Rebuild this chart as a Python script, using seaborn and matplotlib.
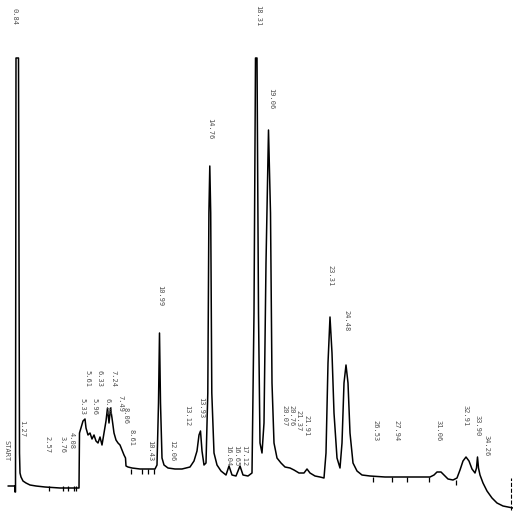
import matplotlib
matplotlib.use("Agg")
import matplotlib.pyplot as plt
import seaborn as sns
import pandas as pd

# --- Chromatogram trace (chart mm, response mm) ---
chart_mm = [8, 15, 15, 15.5, 16, 18.5, 19.5, 20, 21, 23, 26, 30, 36, 45, 60, 79,
            79.5, 81, 83, 85, 86, 88, 90, 92, 94, 96, 98, 100, 102, 104, 106, 107.5,
            109, 110.5, 112, 114, 116, 118, 120, 122, 124, 125.5, 126, 128, 132, 140,
            150, 155, 157, 158.5, 159.5, 160.5, 162, 164, 168, 175, 182, 186, 190, 194,
            197, 199, 200.5, 202, 204, 206, 207.8, 208.9, 209.8, 210.7, 211.8, 214, 217,
            221, 226, 229, 232, 236, 240, 243, 248, 252, 254, 255.5, 257, 258.5, 260,
            262, 264, 266, 268.5, 270.5, 272, 274, 277, 281, 285, 290, 294, 299, 304,
            307, 310, 315, 320, 324, 326, 328, 330, 332, 334, 337, 340, 342, 344, 346,
            348, 350, 353, 357, 362, 370, 385, 410, 430, 434, 437, 441, 444, 448, 453,
            457, 460, 463, 466, 469, 472, 475, 476.5, 477.5, 478.5, 480, 483, 487, 492,
            497, 503, 508, 513]
response_mm = [27, 27, 21, 21, 455, 455, 60, 40, 36, 32, 30, 28, 27, 26, 25, 25,
               80, 85, 92, 94, 85, 78, 80, 74, 78, 72, 70, 76, 68, 80, 92, 105,
               90, 105, 95, 80, 73, 70, 68, 63, 58, 55, 47, 46, 45, 44,
               44, 44, 48, 110, 180, 110, 55, 48, 45, 44, 44, 45, 46, 52,
               62, 78, 82, 62, 48, 50, 120, 300, 347, 300, 120, 60, 48,
               42, 38, 47, 38, 37, 47, 38, 37, 40, 200, 455, 455, 200, 70,
               60, 90, 250, 383, 300, 130, 70, 55, 50, 46, 45, 43, 40, 40,
               44, 40, 37, 36, 35, 60, 150, 196, 160, 100, 55, 45, 70, 130, 148,
               130, 80, 50, 42, 38, 37, 36, 36, 36, 38, 41, 41, 38, 34, 33,
               35, 43, 52, 56, 52, 44, 40, 45, 56, 45, 38, 30, 22, 15,
               10, 7, 6, 5]

# --- Integrator event marks below the baseline ---
mark_x = [49, 63, 68, 74, 76, 131, 142, 148, 154, 373, 392, 407, 429, 456]
mark_top = [27, 27, 27, 27, 27, 44, 44, 44, 44, 36, 36, 36, 36, 33]

# --- Retention time printouts ---
label_text = ["START", "0.84", "1.27", "2.57", "3.76", "4.08", "5.33", "5.61", "5.96",
              "6.33", "6.78", "7.24", "7.49", "8.06", "8.61", "10.43", "10.99", "12.06",
              "13.12", "13.93", "14.76", "16.04", "16.65", "17.12", "18.31", "19.06",
              "20.07", "20.76", "21.37", "21.91", "23.31", "24.48", "26.53", "27.94",
              "31.06", "32.91", "33.90", "34.26"]
label_x = [6, 14, 22, 47, 63, 72, 82, 87, 94, 100, 107, 113, 120, 126, 132, 150, 160, 172,
           187, 201, 210, 228, 236, 244, 258, 271, 284, 291, 298, 306, 330, 346, 375, 396,
           439, 466, 478, 487]
label_top = [73, 505, 93, 77, 77, 81, 115, 143, 115, 143, 115, 143, 118, 106, 84, 73, 228,
             73, 108, 116, 395, 68, 68, 68, 508, 425, 108, 108, 103, 98, 248, 203, 93, 93,
             93, 108, 98, 78]

df = pd.DataFrame({"chart_mm": chart_mm, "response_mm": response_mm})

sns.set_style("white")
plt.rcParams["font.family"] = ["DejaVu Sans Mono", "DejaVu Sans"]

fig = plt.figure(figsize=(5.13, 5.13), dpi=100)
ax = fig.add_axes([0, 0, 1, 1])

sns.lineplot(data=df, x="chart_mm", y="response_mm", sort=False, estimator=None,
             color="black", linewidth=1.1, ax=ax)

ax.vlines(mark_x, [t - 5 for t in mark_top], mark_top, color="black", linewidth=0.9)
# end-of-run marker at the right edge
ax.vlines([511], [3], [35], color="black", linewidth=0.8, linestyles="dashed")

for txt, x, top in zip(label_text, label_x, label_top):
    ax.text(x, top, txt, rotation=270, ha="center", va="top",
            fontsize=5, color="#505050")

ax.set_xlim(0, 513)
ax.set_ylim(0, 513)
ax.axis("off")

fig.savefig("out.png", dpi=100, facecolor="white")
